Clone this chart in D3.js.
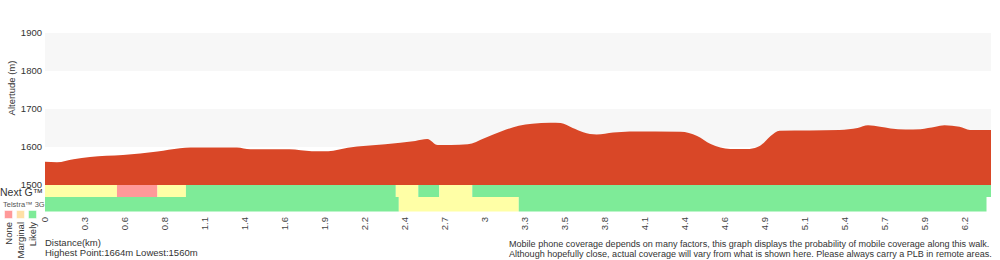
<!DOCTYPE html>
<html>
<head>
<meta charset="utf-8">
<script src="https://cdn.jsdelivr.net/npm/d3@7"></script>
<style>
  body { margin: 0; background: #fff; }
  svg { display: block; font-family: "Liberation Sans", Arial, Helvetica, sans-serif; }
</style>
</head>
<body>
<svg id="chart"></svg>
<script>
var width = 1000;
var height = 260;

// altitude profile along the walk: distance (km), altitude (m)
var profileKm = [0, 0.08, 0.19, 0.30, 0.52, 0.75, 0.90, 0.97, 1.28, 1.37, 1.63, 1.78, 1.89,
                 2.02, 2.27, 2.47, 2.55, 2.62, 2.71, 2.82, 2.93, 3.05, 3.16, 3.25, 3.37,
                 3.44, 3.52, 3.59, 3.68, 3.79, 3.90, 4.24, 4.35, 4.44, 4.57, 4.70, 4.77,
                 4.84, 4.90, 5.30, 5.42, 5.49, 5.57, 5.64, 5.74, 5.84, 5.94, 6.00, 6.10,
                 6.17, 6.31];
var profileAlt = [1561, 1560, 1568, 1574, 1579, 1588, 1597, 1599, 1599, 1594, 1594, 1589, 1589,
                  1598, 1607, 1616, 1621, 1605, 1605, 1607, 1623, 1642, 1656, 1661, 1664,
                  1663, 1650, 1639, 1633, 1638, 1641, 1640, 1629, 1608, 1595, 1595, 1603,
                  1629, 1643, 1645, 1650, 1657, 1653, 1649, 1646, 1647, 1653, 1657, 1653,
                  1645, 1645];

// coverage segments: start km, end km, level
var nextGStart = [0, 0.48, 0.75, 0.94, 2.34, 2.49, 2.63, 2.85];
var nextGEnd   = [0.48, 0.75, 0.94, 2.34, 2.49, 2.63, 2.85, 6.31];
var nextGLevel = ["marginal", "none", "marginal", "likely", "marginal", "likely", "marginal", "likely"];

var g3Start = [0, 2.36, 3.16];
var g3End   = [2.36, 3.16, 6.28];
var g3Level = ["likely", "marginal", "likely"];

var tickLabels = ["0", "0.3", "0.6", "0.8", "1.1", "1.4", "1.6", "1.9", "2.2", "2.4", "2.7", "3",
                  "3.3", "3.5", "3.8", "4.1", "4.4", "4.6", "4.9", "5.1", "5.4", "5.7", "5.9", "6.2"];
var tickStep = 0.2668;

var yTicks = [1500, 1600, 1700, 1800, 1900];
var bands = [[1600, 1700], [1800, 1900]];

var legendLevels = ["none", "marginal", "likely"];
var legendNames = ["None", "Marginal", "Likely"];

var bandColor = { none: "#ff9999", marginal: "#ffffa6", likely: "#7eeb98" };
var legendColor = { none: "#ff9999", marginal: "#ffe0a6", likely: "#7eeb98" };

var svg = d3.select("#chart")
  .attr("width", width)
  .attr("height", height);

var x = d3.scaleLinear().domain([0, 6.31]).range([45, 991]);
var y = d3.scaleLinear().domain([1500, 1900]).range([185, 33]);

// background bands
svg.append("g").selectAll("rect")
  .data(bands)
  .enter().append("rect")
  .attr("x", x(0))
  .attr("width", x(6.31) - x(0))
  .attr("y", function (d) { return y(d[1]); })
  .attr("height", function (d) { return y(d[0]) - y(d[1]); })
  .attr("fill", "#f7f7f7");

// profile
var profile = profileKm.map(function (d, i) { return { km: d, alt: profileAlt[i] }; });

var area = d3.area()
  .curve(d3.curveMonotoneX)
  .x(function (d) { return x(d.km); })
  .y0(y(1500))
  .y1(function (d) { return y(d.alt); });

svg.append("path")
  .datum(profile)
  .attr("d", area)
  .attr("fill", "#d94727");

// coverage rows
function drawRow(starts, ends, levels, top, h) {
  svg.append("g").selectAll("rect")
    .data(starts)
    .enter().append("rect")
    .attr("x", function (d) { return x(d); })
    .attr("width", function (d, i) { return x(ends[i]) - x(d); })
    .attr("y", top)
    .attr("height", h)
    .attr("fill", function (d, i) { return bandColor[levels[i]]; });
}
drawRow(nextGStart, nextGEnd, nextGLevel, 185, 12);
drawRow(g3Start, g3End, g3Level, 197, 14.5);

// y axis labels
svg.append("g").selectAll("text")
  .data(yTicks)
  .enter().append("text")
  .text(function (d) { return d; })
  .attr("x", 42)
  .attr("y", function (d) { return y(d); })
  .attr("dy", ".35em")
  .attr("text-anchor", "end")
  .attr("font-size", "9.5px")
  .attr("fill", "#333");

svg.append("text")
  .text("Altertude (m)")
  .attr("transform", "translate(15," + ((y(1900) + y(1600)) / 2 - 2) + ") rotate(-90)")
  .attr("text-anchor", "middle")
  .attr("font-size", "9.5px")
  .attr("fill", "#333");

// x tick labels
svg.append("g").selectAll("text")
  .data(tickLabels)
  .enter().append("text")
  .text(function (d) { return d; })
  .attr("transform", function (d, i) {
    return "translate(" + x(i * tickStep) + ",217) rotate(-90)";
  })
  .attr("dy", ".35em")
  .attr("text-anchor", "end")
  .attr("font-size", "9.5px")
  .attr("fill", "#444");

// row labels
svg.append("text")
  .text("Next G\u2122")
  .attr("x", 0)
  .attr("y", 196)
  .attr("font-size", "10.5px")
  .attr("fill", "#333");

svg.append("text")
  .text("Telstra\u2122 3G")
  .attr("x", 3)
  .attr("y", 206.5)
  .attr("font-size", "7.5px")
  .attr("fill", "#555");

// legend
var legend = svg.append("g");
legendLevels.forEach(function (d, i) {
  legend.append("rect")
    .attr("x", 4.5 + i * 12)
    .attr("y", 210.5)
    .attr("width", 8)
    .attr("height", 8)
    .attr("fill", legendColor[d])
    .attr("stroke", "#fff")
    .attr("stroke-opacity", 0.5);

  legend.append("text")
    .text(legendNames[i])
    .attr("transform", "translate(" + (8.5 + i * 12) + ",222) rotate(-90)")
    .attr("dy", ".35em")
    .attr("text-anchor", "end")
    .attr("font-size", "9.5px")
    .attr("fill", "#333");
});

// notes
svg.append("text")
  .text("Distance(km)")
  .attr("x", 45)
  .attr("y", 246)
  .attr("font-size", "9.5px")
  .attr("fill", "#333");

svg.append("text")
  .text("Highest Point:1664m Lowest:1560m")
  .attr("x", 45)
  .attr("y", 256)
  .attr("font-size", "9.5px")
  .attr("fill", "#333");

svg.append("text")
  .text("Mobile phone coverage depends on many factors, this graph displays the probability of mobile coverage along this walk.")
  .attr("x", 509)
  .attr("y", 247)
  .attr("font-size", "9.05px")
  .attr("fill", "#333");

svg.append("text")
  .text("Although hopefully close, actual coverage will vary from what is shown here. Please always carry a PLB in remote areas.")
  .attr("x", 509)
  .attr("y", 257)
  .attr("font-size", "9.05px")
  .attr("fill", "#333");
</script>
</body>
</html>
